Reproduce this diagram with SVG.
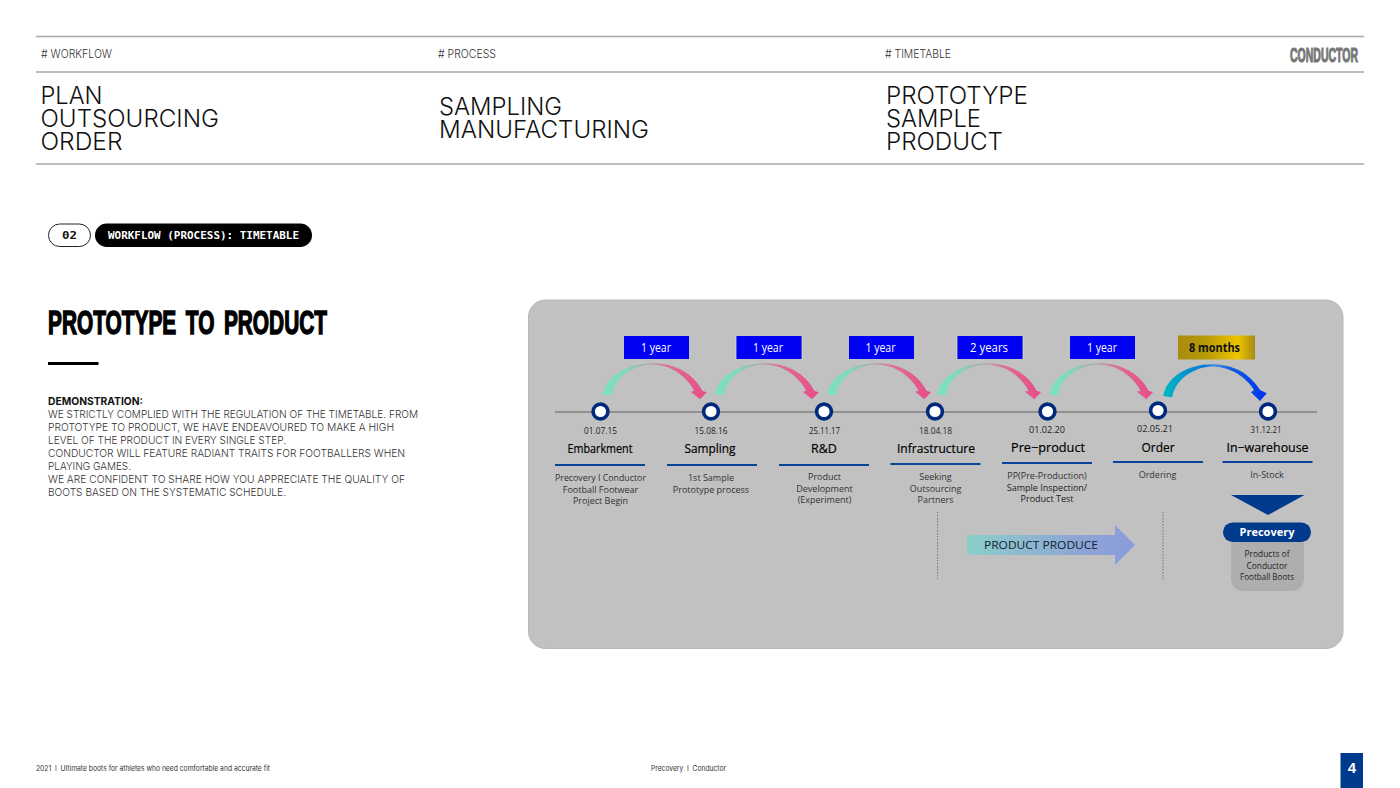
<svg xmlns="http://www.w3.org/2000/svg" width="1400" height="788" viewBox="0 0 1400 788">
<style>
text{font-family:"Inter","Lato","Liberation Sans",sans-serif;fill:#111}
.rule{stroke:#a8a8a8;stroke-width:1.4;fill:none}
.tag{font-size:11.500px;fill:#333;font-weight:300}
.big{font-size:23.500px;fill:#111;font-weight:300}
.body{font-size:10.800px;fill:#333;font-weight:300}
.date{font-family:"Open Sans",sans-serif;font-size:9.500px;text-anchor:middle;fill:#222}
.name{font-family:"Open Sans",sans-serif;font-size:12.500px;text-anchor:middle;fill:#000;stroke:#000;stroke-width:.2}
.desc{font-family:"Open Sans",sans-serif;font-size:9px;text-anchor:middle;fill:#333}
.dur{font-family:"Open Sans",sans-serif;font-size:12px;text-anchor:middle;fill:#fff}
.dot{fill:#fff;stroke:#00287c;stroke-width:3.6}
.under{stroke:#0b429b;stroke-width:2;fill:none}
.blue{fill:#0000f5;stroke:#d9d9b8;stroke-width:.8}
.vd{stroke:#777;stroke-width:1;stroke-dasharray:1.5 1.5;fill:none}
.foot{font-size:7.400px;fill:#333;white-space:pre}
</style>
<defs>
<linearGradient id="gp" x1="0" y1="0" x2="1" y2="0"><stop offset="0" stop-color="#7ae3be"/><stop offset=".2" stop-color="#84d8b8"/><stop offset=".45" stop-color="#b0a8ac"/><stop offset=".62" stop-color="#dc7098"/><stop offset="1" stop-color="#e84c86"/></linearGradient>
<linearGradient id="gb" x1="0" y1="0" x2="1" y2="0"><stop offset="0" stop-color="#00b8c0"/><stop offset=".4" stop-color="#0678dc"/><stop offset=".5" stop-color="#4a90e0"/><stop offset=".65" stop-color="#1060e0"/><stop offset="1" stop-color="#0030f0"/></linearGradient>
<linearGradient id="gold" x1="0" y1="0" x2="1" y2="0"><stop offset="0" stop-color="#a98a10"/><stop offset=".35" stop-color="#b59a08"/><stop offset=".78" stop-color="#efc400"/><stop offset="1" stop-color="#a88b14"/></linearGradient>
<linearGradient id="ga" x1="0" y1="0" x2="1" y2="0"><stop offset="0" stop-color="#8bcfc9"/><stop offset=".7" stop-color="#8ea3d6"/><stop offset="1" stop-color="#8b9bdb"/></linearGradient>
<path id="arc" d="M0,395 C2.500,378 22,363.300 48.700,363.300 C72,363.300 90,373 99.300,390.700 L103.700,392.300 L97,399.300 L87.700,391.700 L91.300,390.700 C83,376 68,364.500 48.700,364.500 C30,365 11,378 9,395 Z"/>
</defs>

<g id="header">
<line class="rule" x1="36" y1="36.500" x2="1364" y2="36.500"/>
<line class="rule" x1="36" y1="72" x2="1364" y2="72"/>
<line class="rule" x1="36" y1="164" x2="1364" y2="164"/>
<text class="tag" x="41" y="58" textLength="71" lengthAdjust="spacingAndGlyphs"># WORKFLOW</text>
<text class="tag" x="438" y="58" textLength="58" lengthAdjust="spacingAndGlyphs"># PROCESS</text>
<text class="tag" x="885" y="58" textLength="66" lengthAdjust="spacingAndGlyphs"># TIMETABLE</text>
<text x="1290" y="62" font-size="19.500" font-weight="700" style="font-family:'Liberation Sans',sans-serif;fill:#777;stroke:#777;stroke-width:1.100" textLength="68" lengthAdjust="spacingAndGlyphs">CONDUCTOR</text>
<text class="big" x="40.500" y="104" textLength="62" lengthAdjust="spacingAndGlyphs">PLAN</text>
<text class="big" x="40.500" y="126.500" textLength="178.500" lengthAdjust="spacingAndGlyphs">OUTSOURCING</text>
<text class="big" x="40.500" y="149.500" textLength="82" lengthAdjust="spacingAndGlyphs">ORDER</text>
<text class="big" x="439" y="115" textLength="123" lengthAdjust="spacingAndGlyphs">SAMPLING</text>
<text class="big" x="439" y="138" textLength="210" lengthAdjust="spacingAndGlyphs">MANUFACTURING</text>
<text class="big" x="886" y="104" textLength="142" lengthAdjust="spacingAndGlyphs">PROTOTYPE</text>
<text class="big" x="886" y="126.500" textLength="95" lengthAdjust="spacingAndGlyphs">SAMPLE</text>
<text class="big" x="886" y="149.500" textLength="117" lengthAdjust="spacingAndGlyphs">PRODUCT</text>
</g>

<g id="section-tag">
<rect x="48.500" y="224" width="42" height="22.500" rx="11.200" fill="#fff" stroke="#222" stroke-width="1"/>
<text x="69.500" y="239" font-size="11" font-weight="700" text-anchor="middle" style="font-family:'DejaVu Sans Mono',monospace;fill:#111" textLength="15" lengthAdjust="spacingAndGlyphs">02</text>
<rect x="95" y="223.500" width="217" height="23.500" rx="11.700" fill="#000"/>
<text x="108" y="239" font-size="10.500" font-weight="700" style="font-family:'DejaVu Sans Mono',monospace;fill:#fff" textLength="191" lengthAdjust="spacingAndGlyphs">WORKFLOW (PROCESS): TIMETABLE</text>
</g>

<g id="intro">
<text x="48" y="334" font-size="33.500" font-weight="700" word-spacing="6" style="font-family:'Liberation Sans',sans-serif;fill:#000;stroke:#000;stroke-width:1.500" textLength="279" lengthAdjust="spacingAndGlyphs">PROTOTYPE TO PRODUCT</text>
<rect x="48" y="362" width="50.500" height="3" fill="#000"/>
<text class="body" x="48" y="404.500" style="font-weight:700;fill:#111" textLength="95" lengthAdjust="spacingAndGlyphs">DEMONSTRATION:</text>
<text class="body" x="48" y="418" textLength="370" lengthAdjust="spacingAndGlyphs">WE STRICTLY COMPLIED WITH THE REGULATION OF THE TIMETABLE. FROM</text>
<text class="body" x="48" y="431" textLength="346" lengthAdjust="spacingAndGlyphs">PROTOTYPE TO PRODUCT, WE HAVE ENDEAVOURED TO MAKE A HIGH</text>
<text class="body" x="48" y="444" textLength="238" lengthAdjust="spacingAndGlyphs">LEVEL OF THE PRODUCT IN EVERY SINGLE STEP.</text>
<text class="body" x="48" y="457" textLength="357" lengthAdjust="spacingAndGlyphs">CONDUCTOR WILL FEATURE RADIANT TRAITS FOR FOOTBALLERS WHEN</text>
<text class="body" x="48" y="470" textLength="83" lengthAdjust="spacingAndGlyphs">PLAYING GAMES.</text>
<text class="body" x="48" y="483" textLength="357" lengthAdjust="spacingAndGlyphs">WE ARE CONFIDENT TO SHARE HOW YOU APPRECIATE THE QUALITY OF</text>
<text class="body" x="48" y="496" textLength="238" lengthAdjust="spacingAndGlyphs">BOOTS BASED ON THE SYSTEMATIC SCHEDULE.</text>
</g>

<g id="panel"><rect x="528.500" y="300" width="814.500" height="348.500" rx="17" fill="#c1c1c1" stroke="#b8b8b8" stroke-width="1"/></g>

<g id="connectors">
<line x1="555" y1="412" x2="1317" y2="412" stroke="#7f7f7f" stroke-width="1.600"/>
<use href="#arc" x="603" fill="url(#gp)"/>
<use href="#arc" x="715" fill="url(#gp)"/>
<use href="#arc" x="827.300" fill="url(#gp)"/>
<use href="#arc" x="937.300" fill="url(#gp)"/>
<use href="#arc" x="1049.300" fill="url(#gp)"/>
<path d="M1163.300,396 C1166,378 1187,364.300 1211.700,364.300 C1234,364.300 1250,374 1260,390 L1266.700,393.300 L1260,401 L1251,392.300 L1254,390 C1246,377 1231,367 1212,366.500 C1193,367 1175,380 1172.300,397.300 Z" fill="url(#gb)"/>
<line class="vd" x1="937.500" y1="512" x2="937.500" y2="579"/>
<line class="vd" x1="1163" y1="512" x2="1163" y2="580"/>
</g>

<g id="dur-1"><rect class="blue" x="623.500" y="335.500" width="66" height="24"/><text class="dur" x="656" y="352" textLength="30" lengthAdjust="spacingAndGlyphs">1 year</text></g>
<g id="dur-2"><rect class="blue" x="736" y="335.500" width="66" height="24"/><text class="dur" x="768" y="352" textLength="30" lengthAdjust="spacingAndGlyphs">1 year</text></g>
<g id="dur-3"><rect class="blue" x="848.500" y="335.500" width="66" height="24"/><text class="dur" x="880.500" y="352" textLength="30" lengthAdjust="spacingAndGlyphs">1 year</text></g>
<g id="dur-4"><rect class="blue" x="957" y="335.500" width="66" height="24"/><text class="dur" x="989" y="352" textLength="38" lengthAdjust="spacingAndGlyphs">2 years</text></g>
<g id="dur-5"><rect class="blue" x="1069.500" y="335.500" width="66" height="24"/><text class="dur" x="1102" y="352" textLength="30" lengthAdjust="spacingAndGlyphs">1 year</text></g>
<g id="dur-6"><rect x="1178" y="335.500" width="77" height="24" fill="url(#gold)"/><text class="dur" x="1214.500" y="352" font-weight="700" style="fill:#111" textLength="51" lengthAdjust="spacingAndGlyphs">8 months</text></g>

<g id="node-1"><circle class="dot" cx="600.500" cy="411.500" r="7.400"/><text class="date" x="600.500" y="434" textLength="33" lengthAdjust="spacingAndGlyphs">01.07.15</text><text class="name" x="600" y="453" textLength="65" lengthAdjust="spacingAndGlyphs">Embarkment</text><line class="under" x1="555" y1="465" x2="645" y2="465"/><text class="desc" x="600.500" y="481" textLength="91" lengthAdjust="spacingAndGlyphs">Precovery I Conductor</text><text class="desc" x="600.500" y="492.500">Football Footwear</text><text class="desc" x="600.500" y="503.500">Project Begin</text></g>
<g id="node-2"><circle class="dot" cx="711" cy="411.500" r="7.400"/><text class="date" x="711" y="434" textLength="33" lengthAdjust="spacingAndGlyphs">15.08.16</text><text class="name" x="710" y="453" textLength="51" lengthAdjust="spacingAndGlyphs">Sampling</text><line class="under" x1="667" y1="465" x2="757" y2="465"/><text class="desc" x="711" y="481">1st Sample</text><text class="desc" x="711" y="492.500">Prototype process</text></g>
<g id="node-3"><circle class="dot" cx="824" cy="411.500" r="7.400"/><text class="date" x="824.500" y="434" textLength="31" lengthAdjust="spacingAndGlyphs">25.11.17</text><text class="name" x="824" y="453">R&amp;D</text><line class="under" x1="779" y1="465" x2="869" y2="465"/><text class="desc" x="824.500" y="480">Product</text><text class="desc" x="824.500" y="491.500">Development</text><text class="desc" x="824.500" y="502.500">(Experiment)</text></g>
<g id="node-4"><circle class="dot" cx="935" cy="411.500" r="7.400"/><text class="date" x="935.500" y="434" textLength="33" lengthAdjust="spacingAndGlyphs">18.04.18</text><text class="name" x="936" y="453" textLength="78" lengthAdjust="spacingAndGlyphs">Infrastructure</text><line class="under" x1="890.500" y1="464" x2="980.500" y2="464"/><text class="desc" x="935.500" y="480">Seeking</text><text class="desc" x="935.500" y="491.500">Outsourcing</text><text class="desc" x="935.500" y="502.500">Partners</text></g>
<g id="node-5"><circle class="dot" cx="1047.500" cy="411.500" r="7.400"/><text class="date" x="1047" y="433" textLength="36" lengthAdjust="spacingAndGlyphs">01.02.20</text><text class="name" x="1048" y="452" textLength="74" lengthAdjust="spacingAndGlyphs">Pre−product</text><line class="under" x1="1002" y1="463" x2="1092" y2="463"/><text class="desc" x="1047" y="479">PP(Pre-Production)</text><text class="desc" x="1047" y="491" style="fill:#222">Sample Inspection/</text><text class="desc" x="1047" y="502" style="fill:#222">Product Test</text></g>
<g id="node-6"><circle class="dot" cx="1158" cy="410.500" r="7.400"/><text class="date" x="1155" y="432" textLength="36" lengthAdjust="spacingAndGlyphs">02.05.21</text><text class="name" x="1158" y="452" textLength="33" lengthAdjust="spacingAndGlyphs">Order</text><line class="under" x1="1113" y1="462" x2="1203" y2="462"/><text class="desc" x="1157.500" y="478">Ordering</text></g>
<g id="node-7"><circle class="dot" cx="1268" cy="411.500" r="7.400"/><text class="date" x="1266" y="433" textLength="31" lengthAdjust="spacingAndGlyphs">31.12.21</text><text class="name" x="1267.500" y="452" textLength="82" lengthAdjust="spacingAndGlyphs">In−warehouse</text><line class="under" x1="1222.500" y1="462" x2="1312.500" y2="462"/><text class="desc" x="1267" y="478">In-Stock</text></g>

<g id="flow-arrow"><path d="M967,535 H1115 V525 L1135,545 L1115,565 V555 H967 Z" fill="url(#ga)"/><text x="1041" y="549" font-size="11.500" text-anchor="middle" style="font-family:'Open Sans',sans-serif;fill:#123" textLength="114" lengthAdjust="spacingAndGlyphs">PRODUCT PRODUCE</text></g>

<g id="precovery">
<path d="M1231,495 H1304.500 L1268,515 Z" fill="#003a8c"/>
<path d="M1231,535 H1304 V577 Q1304,591 1290,591 H1245 Q1231,591 1231,577 Z" fill="#aeaeae"/>
<rect x="1223" y="522.500" width="88" height="19.500" rx="9.700" fill="#003a8c"/>
<text x="1267" y="536" font-size="11" font-weight="700" text-anchor="middle" style="font-family:'Open Sans',sans-serif;fill:#fff" textLength="55" lengthAdjust="spacingAndGlyphs">Precovery</text>
<text class="desc" x="1267" y="557" style="fill:#222" textLength="45" lengthAdjust="spacingAndGlyphs">Products of</text>
<text class="desc" x="1267" y="568.500" style="fill:#222" textLength="41" lengthAdjust="spacingAndGlyphs">Conductor</text>
<text class="desc" x="1267" y="580" style="fill:#222" textLength="54" lengthAdjust="spacingAndGlyphs">Football Boots</text>
</g>

<g id="footer">
<text class="foot" x="36" y="771" textLength="234" lengthAdjust="spacingAndGlyphs">2021  I  Ultimate boots for athletes who need comfortable and accurate fit</text>
<text class="foot" x="651" y="771" textLength="75" lengthAdjust="spacingAndGlyphs">Precovery  I  Conductor</text>
<rect x="1340.500" y="753" width="22.500" height="35" fill="#003a8c"/>
<text x="1351.800" y="773" font-size="15" font-weight="700" text-anchor="middle" style="font-family:'Liberation Sans',sans-serif;fill:#fff">4</text>
</g>
</svg>
